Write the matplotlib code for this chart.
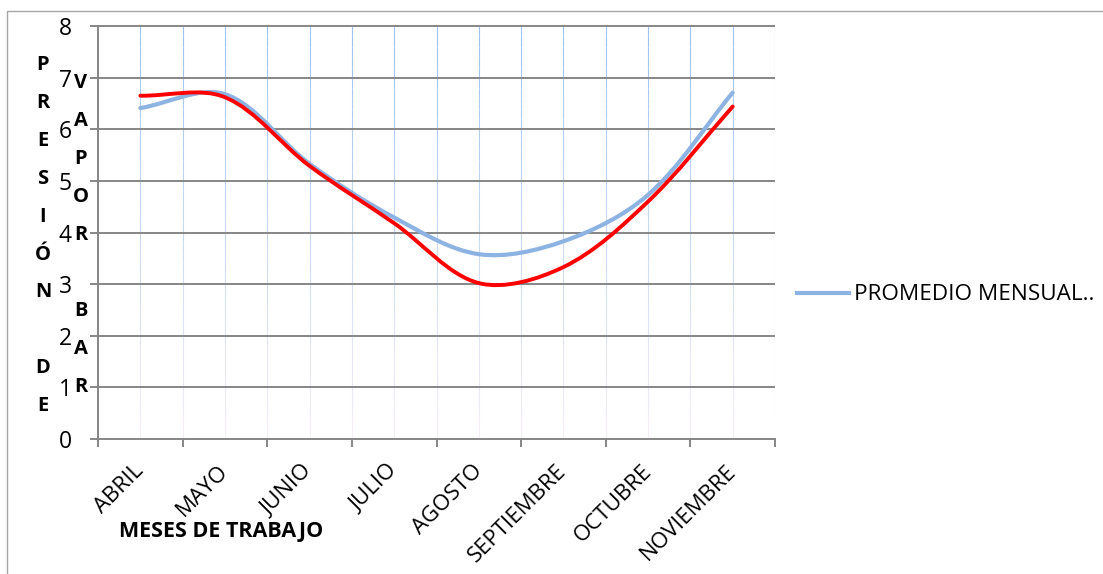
import matplotlib.pyplot as plt
import numpy as np
from matplotlib.path import Path
from matplotlib.patches import PathPatch, Rectangle
from matplotlib.collections import LineCollection
from matplotlib.lines import Line2D
from matplotlib.colors import to_rgb

plt.rcParams['font.family'] = ['Open Sans', 'DejaVu Sans']

meses = ["ABRIL", "MAYO", "JUNIO", "JULIO", "AGOSTO", "SEPTIEMBRE", "OCTUBRE", "NOVIEMBRE"]
promedio = [6.41, 6.68, 5.33, 4.29, 3.58, 3.83, 4.73, 6.71]
serie_roja = [6.65, 6.62, 5.29, 4.18, 3.02, 3.33, 4.60, 6.44]

titulo_y1 = "PRESIÓN DE"
titulo_y2 = "VAPOR BAR"

W, H = 1103, 574
GRIS = "#868686"
AZUL = "#8db3e2"
PX_X, PX_Y = 84.6, 51.6  # pixeles por unidad en cada eje


def smooth_path(x, y):
    # curva suave tipo Excel: bezier con tangentes escaladas por la
    # longitud de cada tramo en pantalla
    pts = np.column_stack([x, y]).astype(float)
    ext = np.vstack([pts[0], pts, pts[-1]])
    scale = np.array([PX_X, PX_Y])

    def dist(a, b):
        return np.hypot(*((b - a) * scale))

    verts = [pts[0]]
    codes = [Path.MOVETO]
    for i in range(len(pts) - 1):
        p0, p1, p2, p3 = ext[i], ext[i + 1], ext[i + 2], ext[i + 3]
        d01, d12, d23 = dist(p0, p1), dist(p1, p2), dist(p2, p3)
        f1 = d12 / (d01 + d12) / 3
        f2 = d12 / (d12 + d23) / 3
        verts += [p1 + (p2 - p0) * f1, p2 - (p3 - p1) * f2, p2]
        codes += [Path.CURVE4] * 3
    return Path(verts, codes)


fig = plt.figure(figsize=(W / 100, H / 100), dpi=100)
fig.add_artist(Rectangle((7 / W, -0.05), 1.2, 1 - 11 / H + 0.05,
                         transform=fig.transFigure, fill=False,
                         ec="#a6a6a6", lw=1))

ax = fig.add_axes([98 / W, 1 - 439 / H, 677 / W, 413 / H])
x = np.arange(len(meses))
ax.set_xlim(-0.5, len(meses) - 0.5)
ax.set_ylim(0, 8)

# lineas verticales azules que se desvanecen hacia abajo
top_c = np.array(to_rgb("#9cc3ee"))
bot_c = np.array(to_rgb("#f6eef6"))
ys = np.linspace(8, 0, 41)
segs, cols = [], []
for xv in np.arange(0, len(meses) - 0.49, 0.5):
    for j in range(len(ys) - 1):
        segs.append([(xv, ys[j]), (xv, ys[j + 1])])
        t = j / (len(ys) - 2)
        cols.append(top_c * (1 - t) + bot_c * t)
ax.add_collection(LineCollection(segs, colors=cols, lw=0.8, zorder=0.5))

ax.hlines(range(1, 9), -0.5, len(meses) - 0.5, color=GRIS, lw=1.4,
          zorder=1, clip_on=False)

ax.add_patch(PathPatch(smooth_path(x, promedio), fill=False, ec=AZUL,
                       lw=3, zorder=3, capstyle="round"))
ax.add_patch(PathPatch(smooth_path(x, serie_roja), fill=False, ec="#ff0000",
                       lw=2.8, zorder=4, capstyle="round"))

for side in ["top", "right"]:
    ax.spines[side].set_visible(False)
for side in ["left", "bottom"]:
    ax.spines[side].set_color(GRIS)
    ax.spines[side].set_linewidth(1.4)

ax.set_yticks(range(0, 9))
ax.tick_params(axis="y", direction="out", length=5.8, width=1.4, color=GRIS,
               pad=13, labelsize=16.5)
ax.set_xticks(np.arange(-0.5, len(meses), 1))
ax.set_xticklabels([])
ax.set_xticks(x, minor=True)
ax.set_xticklabels(meses, minor=True, rotation=45, ha="right", va="center",
                   rotation_mode="anchor", fontsize=16)
ax.tick_params(axis="x", which="major", direction="out", length=5.5,
               width=1.4, color=GRIS)
ax.tick_params(axis="x", which="minor", length=0, pad=21)

# titulo del eje Y apilado letra por letra en dos columnas
for i, ch in enumerate(titulo_y1):
    fig.text(43 / W, 1 - (65 + i * 37.9) / H, ch, ha="center", va="center",
             fontsize=14.5, fontweight="bold")
for i, ch in enumerate(titulo_y2):
    fig.text(81 / W, 1 - (83 + i * 38) / H, ch, ha="center", va="center",
             fontsize=14.5, fontweight="bold")

fig.text(221 / W, 1 - 532 / H, "MESES DE TRABAJO", ha="center", va="center",
         fontsize=15.5, fontweight="bold")

fig.legend(handles=[Line2D([], [], color=AZUL, lw=3)],
           labels=["PROMEDIO MENSUAL.."], loc="center left",
           bbox_to_anchor=(797 / W, 1 - 295 / H), frameon=False,
           borderpad=0, borderaxespad=0, handlelength=2.3,
           handletextpad=0.25, fontsize=16.2)

fig.savefig("out.png", dpi=100)
